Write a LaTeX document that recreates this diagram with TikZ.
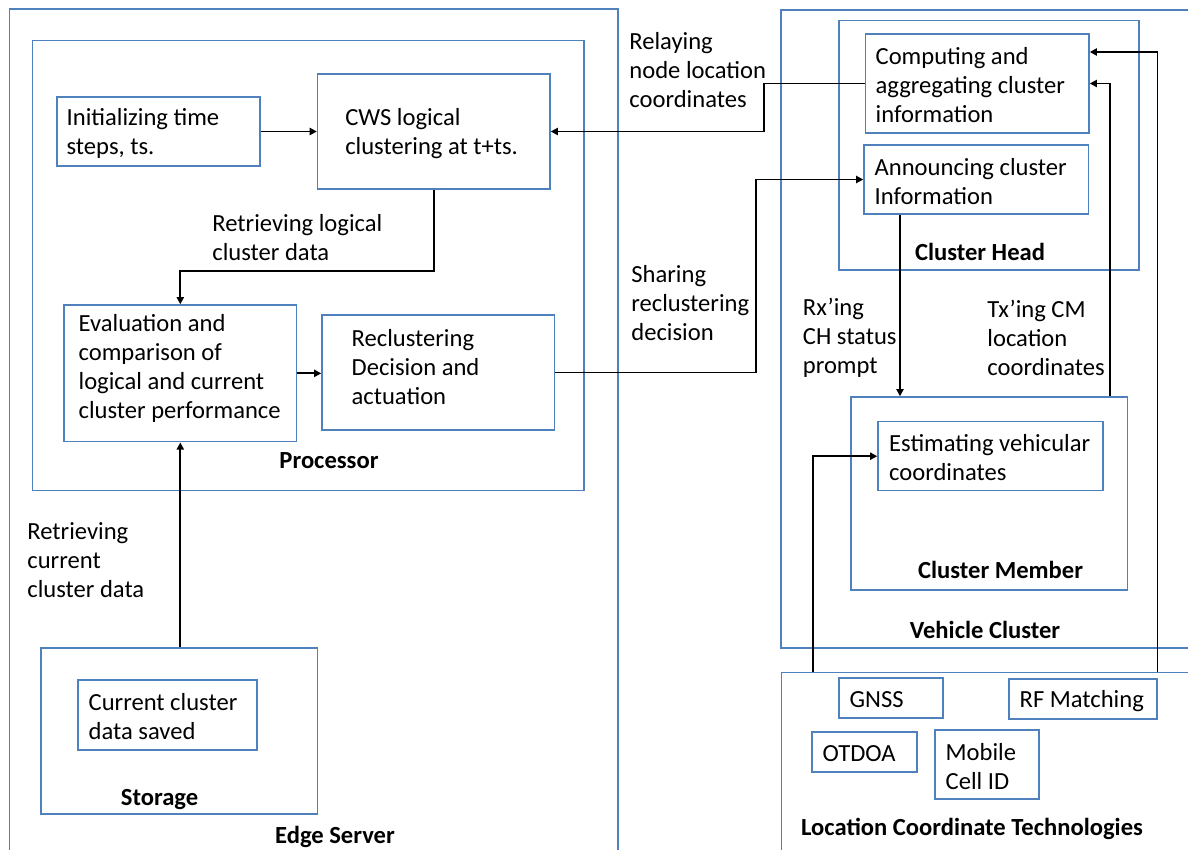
\documentclass[tikz,border=0pt]{standalone}
\usepackage{fontspec}
\setmainfont{Carlito}
\usetikzlibrary{arrows.meta,fit,calc}
\definecolor{boxblue}{RGB}{79,129,189}
\begin{document}
\begin{tikzpicture}[x=0.5pt,y=-0.5pt,
  box/.style={draw=boxblue,line width=0.75pt,inner sep=0pt},
  txt/.style={align=left,inner sep=0pt,anchor=west,yshift=-0.8pt,font=\fontsize{12.3}{14.5}\selectfont},
  ttl/.style={inner sep=0pt,font=\fontsize{12.3}{14.5}\selectfont\bfseries},
  conn/.style={line width=0.9pt,black},
  arr/.style={conn,-{Triangle[length=3.6pt,width=3.6pt]}}]
\useasboundingbox (0,0) rectangle (1188,850);
\fill[white] (0,0) rectangle (1188,850);
\clip (0,0) rectangle (1188,850);

% ---------- Edge server side ----------
\node[box,fit={(9.6,9) (618,870)}] (edge) {};
\node[box,fit={(32.5,40.7) (584,490.7)}] (proc) {};
\node[box,fit={(57,97) (260,166)}] (init) {};
\node[box,fit={(317.6,74) (550,189)}] (cws) {};
\node[box,fit={(64,305) (296.6,441.7)}] (eval) {};
\node[box,fit={(322,315) (554.5,430)}] (recl) {};
\node[box,fit={(41,648) (317.6,814)}] (stor) {};
\node[box,fit={(78,680) (256.8,750)}] (cur) {};

\node[txt] (initT) at ($(init.west)+(10,0)$) {Initializing time\\steps, ts.};
\node[txt] (cwsT) at ($(cws.west)+(28,0)$) {CWS logical\\clustering at t+ts.};
\node[txt] (evalT) at ($(eval.west)+(15,-6.5)$) {Evaluation and\\comparison of\\logical and current\\cluster performance};
\node[txt] (reclT) at ($(recl.west)+(30,-7)$) {Reclustering\\Decision and\\actuation};
\node[txt] (curT) at ($(cur.west)+(11,0)$) {Current cluster\\data saved};

\node[ttl] (procL) at (329,461) {Processor};
\node[ttl] (storL) at (159.6,799.5) {Storage};
\node[ttl] (edgeL) at (335,836.5) {Edge Server};

% ---------- Vehicle cluster side ----------
\node[box,fit={(781,10) (1200,648)}] (veh) {};
\node[box,fit={(839,20.7) (1139,270)}] (head) {};
\node[box,fit={(865.5,34) (1089,133)}] (comp) {};
\node[box,fit={(864,145) (1088.6,214)}] (ann) {};
\node[box,fit={(851,397) (1127.6,590)}] (mem) {};
\node[box,fit={(878,421.7) (1103,490.7)}] (est) {};

\node[txt] (compT) at ($(comp.west)+(10.5,0)$) {Computing and\\aggregating cluster\\information};
\node[txt] (annT) at ($(ann.west)+(11,0)$) {Announcing cluster\\Information};
\node[txt] (estT) at ($(est.west)+(11.5,0)$) {Estimating vehicular\\coordinates};

\node[ttl] (headL) at (980,252) {Cluster Head};
\node[ttl] (memL) at (1000.6,569.5) {Cluster Member};
\node[ttl] (vehL) at (985,630) {Vehicle Cluster};

% ---------- Location technologies ----------
\node[box,fit={(781.7,672.7) (1200,870)}] (loc) {};
\node[box,fit={(839,678) (943,718)}] (gnss) {};
\node[box,fit={(1009,679) (1157,719)}] (rf) {};
\node[box,fit={(812,732) (917,772)}] (otdoa) {};
\node[box,fit={(935,730) (1039,799)}] (mob) {};

\node[txt] (gnssT) at ($(gnss.west)+(11,0)$) {GNSS};
\node[txt] (rfT) at ($(rf.west)+(11,0)$) {RF Matching};
\node[txt] (otdoaT) at ($(otdoa.west)+(11,0)$) {OTDOA};
\node[txt] (mobT) at ($(mob.west)+(11,0)$) {Mobile\\Cell ID};
\node[ttl] (locL) at (972,829) {Location Coordinate Technologies};

% ---------- Connector labels ----------
\node[txt] (relayT) at (629,68.5) {Relaying\\node location\\coordinates};
\node[txt] (retLT) at (212,236) {Retrieving logical\\cluster data};
\node[txt] (shareT) at (631,301) {Sharing\\reclustering\\decision};
\node[txt] (rxT) at (802.5,336) {Rx’ing\\CH status\\prompt};
\node[txt] (txT) at (987,336) {Tx’ing CM\\location\\coordinates};
\node[txt] (retCT) at (27,559) {Retrieving\\current\\cluster data};

% ---------- Connectors ----------
\coordinate (relay) at (764,0);
\coordinate (share) at (755.6,0);
\coordinate (lbend) at (0,270.7);
\coordinate (rx) at (900,0);
\coordinate (tx) at (1110,0);
\coordinate (lt1) at (813,0);
\coordinate (lt2) at (1157.5,0);

\draw[arr] (init.east) -- (init.east -| cws.west);
\draw[arr] (comp.west) -- (relay |- comp.west) |- (cws.east);
\draw[arr] (cws.south) |- (lbend -| eval.north) -- (eval.north);
\draw[arr] (eval.east) -- (eval.east -| recl.west);
\draw[arr] (eval.south |- stor.north) -- (eval.south);
\draw[arr] (recl.east) -| (share |- ann.west) -- (ann.west);
\draw[arr] (rx |- ann.south) -- (rx |- mem.north);
\draw[arr] (tx |- mem.north) |- (comp.east);
\draw[arr] (lt2 |- loc.north) |- ($(comp.east)+(0,-31.5)$);
\draw[arr] (lt1 |- loc.north) |- (est.west);
\end{tikzpicture}
\end{document}
